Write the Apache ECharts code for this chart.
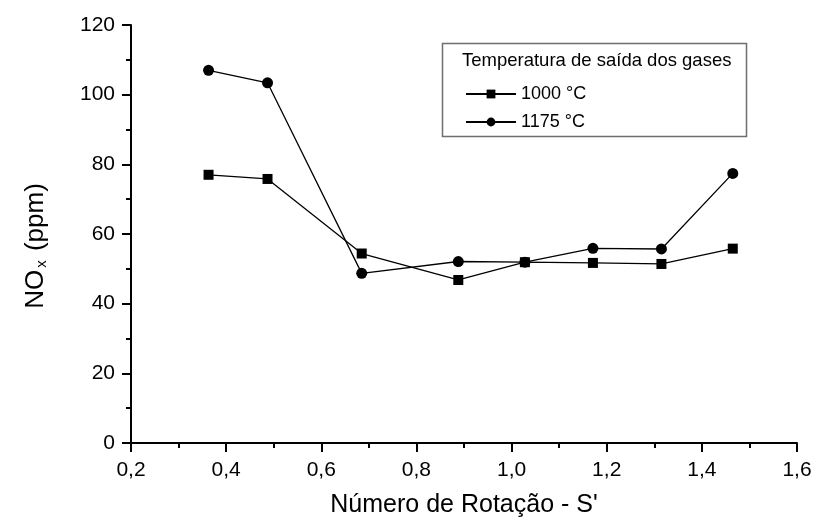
<!DOCTYPE html>
<html>
<head>
<meta charset="utf-8">
<script src="https://cdn.jsdelivr.net/npm/echarts@6/dist/echarts.min.js"></script>
<style>html,body{margin:0;padding:0;background:#fff}#c{width:816px;height:523px}</style>
</head>
<body>
<div id="c"></div>
<script>
const xValues = [0.363, 0.487, 0.685, 0.888, 1.028, 1.171, 1.315, 1.465];
const series1000 = [77.0, 75.8, 54.4, 46.8, 51.9, 51.7, 51.4, 55.8];
const series1175 = [107.0, 103.4, 48.7, 52.1, 51.9, 55.9, 55.7, 77.4];
const seriesNames = ['1000 °C', '1175 °C'];
const legendTitle = 'Temperatura de saída dos gases';
const xTitle = "Número de Rotação - S'";
const font = 'Liberation Sans, Arial, sans-serif';

const pairs = (xs, ys) => xs.map((x, i) => [x, ys[i]]);

const chart = echarts.init(document.getElementById('c'), null, {renderer: 'canvas'});
chart.setOption({
  animation: false,
  backgroundColor: '#fff',
  grid: {left: 131, top: 25, right: 19, bottom: 79, containLabel: false},
  xAxis: {
    type: 'value', min: 0.2, max: 1.6, interval: 0.2,
    name: xTitle, nameLocation: 'middle', nameGap: 50,
    nameTextStyle: {fontFamily: font, fontSize: 25, color: '#000'},
    axisLine: {show: true, lineStyle: {color: '#000', width: 2}},
    axisTick: {show: true, inside: false, length: 9, lineStyle: {color: '#000', width: 2}},
    minorTick: {show: true, splitNumber: 2, length: 5, lineStyle: {color: '#000', width: 2}},
    splitLine: {show: false},
    axisLabel: {fontFamily: font, fontSize: 21, color: '#000', margin: 17,
      formatter: v => v.toFixed(1).replace('.', ',')}
  },
  yAxis: {
    type: 'value', min: 0, max: 120, interval: 20,
    name: '{a|NO}{b|x}{a| (ppm)}', nameLocation: 'middle', nameGap: 82, nameRotate: 90,
    nameTextStyle: {fontFamily: font, fontSize: 26, color: '#000', padding: [0, 24, 0, 0],
      rich: {a: {fontFamily: font, fontSize: 26, color: '#000'},
             b: {fontFamily: font, fontSize: 15, color: '#000', padding: [12, 2, 0, 2]}}},
    axisLine: {show: true, lineStyle: {color: '#000', width: 2}},
    axisTick: {show: true, inside: false, length: 9, lineStyle: {color: '#000', width: 2}},
    minorTick: {show: true, splitNumber: 2, length: 5, lineStyle: {color: '#000', width: 2}},
    splitLine: {show: false},
    axisLabel: {fontFamily: font, fontSize: 21, color: '#000', margin: 16}
  },
  legend: {
    orient: 'vertical', left: 460, top: 80, itemGap: 10,
    itemWidth: 50, itemHeight: 11,
    textStyle: {fontFamily: font, fontSize: 18, color: '#000'},
    data: [{name: seriesNames[0]}, {name: seriesNames[1]}]
  },
  graphic: [
    {type: 'rect', shape: {x: 442.5, y: 43.5, width: 304, height: 93},
     style: {fill: 'none', stroke: '#6e6e6e', lineWidth: 1.5}, z: 10},
    {type: 'text', left: 462, top: 51,
     style: {text: legendTitle, font: '18.5px ' + font, fill: '#000'}, z: 10}
  ],
  series: [
    {name: seriesNames[0], type: 'line', data: pairs(xValues, series1000),
     symbol: 'rect', symbolSize: 10, lineStyle: {color: '#000', width: 1.3},
     itemStyle: {color: '#000'}},
    {name: seriesNames[1], type: 'line', data: pairs(xValues, series1175),
     symbol: 'circle', symbolSize: 11, lineStyle: {color: '#000', width: 1.3},
     itemStyle: {color: '#000'}}
  ]
});
</script>
</body>
</html>
